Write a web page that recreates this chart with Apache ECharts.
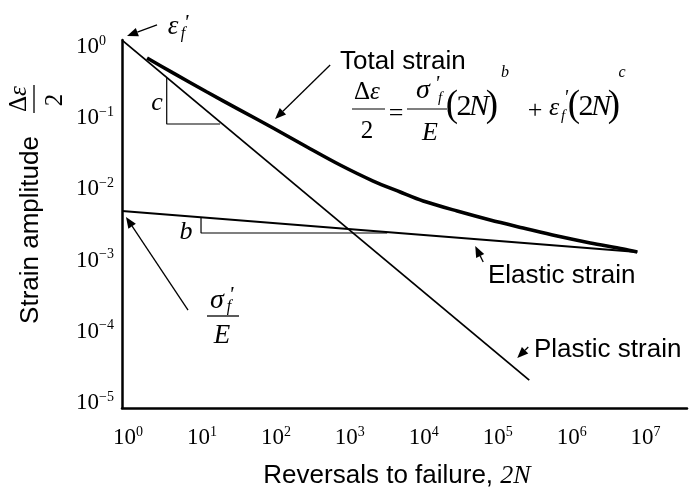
<!DOCTYPE html>
<html><head><meta charset="utf-8">
<script src="https://cdn.jsdelivr.net/npm/echarts@6/dist/echarts.min.js"></script>
<style>html,body{margin:0;padding:0;background:#fff}#c{width:690px;height:490px}</style>
</head><body><div id="c"></div>
<script>
// ---- data ----
const xTickExponents = [0, 1, 2, 3, 4, 5, 6, 7];
const yTickExponents = [0, -1, -2, -3, -4, -5];
const plasticLine = [[0.83, 1.25], [2.67e5, 2.1e-5]];
const elasticLine = [[0.83, 4.97e-3], [7.73e6, 1.32e-3]];
const totalCurve = [
  [1.81, 0.700], [4.06, 0.432], [11.7, 0.233], [32.8, 0.130], [91.6, 0.0728],
  [264, 0.0394], [740, 0.0220], [2070, 0.0131], [4800, 0.00919], [9820, 0.00687],
  [28300, 0.00497], [79200, 0.00372], [2.21e5, 0.00287], [6.38e5, 0.00221],
  [1.79e6, 0.00177], [5.0e6, 0.00146], [7.73e6, 0.00132]
];
const slopeC = [[3.34, 0.366], [3.34, 0.0828], [17.6, 0.0828]];
const slopeB = [[9.72, 0.00396], [9.72, 0.00244], [3200, 0.00244]];
// annotation arrows (tail -> tip), in data coordinates
const arrowNotes = [
  { from: [2.47, 2.04], to: [0.97, 1.43] },
  { from: [542, 0.558], to: [97.5, 0.0973] },
  { from: [6.49, 2.02e-4], to: [0.94, 4.09e-3] },
  { from: [63700, 9.55e-4], to: [49700, 1.60e-3] },
  { from: [2.59e5, 6.11e-5], to: [1.84e5, 4.28e-5] }
];

const SANS = 'Liberation Sans', SERIF = 'Liberation Serif';
const chart = echarts.init(document.getElementById('c'));

function powLabel(v, list) {
  const l = Math.log10(v), e = Math.round(l);
  if (Math.abs(l - e) > 1e-6 || list.indexOf(e) < 0) return '';
  return '{b|10}{s|' + (e < 0 ? '\u2212' + (-e) : e) + '}';
}
const labelRich = {
  b: { fontFamily: SERIF, fontSize: 23, lineHeight: 26, color: '#000' },
  s: { fontFamily: SERIF, fontSize: 14, lineHeight: 14, verticalAlign: 'top', color: '#000' }
};
const thin = { color: '#000', width: 1.8 };

const option = {
  backgroundColor: '#fff',
  animation: false,
  grid: { left: 122, right: 3, top: 40, bottom: 82, containLabel: false, outerBoundsMode: 'none' },
  xAxis: {
    type: 'log', logBase: 10, min: Math.pow(10, -0.081), max: Math.pow(10, 7.56),
    axisLine: { show: true, lineStyle: { color: '#000', width: 2.5 } },
    axisTick: { show: false }, splitLine: { show: false },
    axisLabel: { margin: 17, formatter: v => powLabel(v, xTickExponents), rich: labelRich }
  },
  yAxis: {
    type: 'log', logBase: 10, min: Math.pow(10, -5.07), max: Math.pow(10, 0.098),
    axisLine: { show: true, lineStyle: { color: '#000', width: 2.5 } },
    axisTick: { show: false }, splitLine: { show: false },
    axisLabel: { margin: 46, align: 'left', formatter: v => powLabel(v, yTickExponents), rich: labelRich }
  },
  series: [
    { name: 'Plastic strain', type: 'line', data: plasticLine, symbol: 'none', lineStyle: thin },
    { name: 'Elastic strain', type: 'line', data: elasticLine, symbol: 'none', lineStyle: thin },
    { name: 'Total strain', type: 'line', data: totalCurve, symbol: 'none', smooth: 0.3,
      lineStyle: { color: '#000', width: 3.6 } },
    { name: 'c', type: 'line', data: slopeC, symbol: 'none', lineStyle: { color: '#000', width: 1.2 } },
    { name: 'b', type: 'line', data: slopeB, symbol: 'none', lineStyle: { color: '#000', width: 1.2 } }
  ]
};
chart.setOption(option);

function tx(x, y, text, size, o) {
  o = o || {};
  return {
    type: 'text', x: x, y: y, rotation: o.rot || 0, z: 10,
    style: {
      text: text, fill: '#000', fontSize: size,
      fontFamily: o.sans ? SANS : SERIF, fontStyle: o.it ? 'italic' : 'normal',
      align: o.align || 'center', verticalAlign: 'middle', rich: o.rich
    }
  };
}
function ln(x1, y1, x2, y2, w) {
  return { type: 'line', z: 10, shape: { x1: x1, y1: y1, x2: x2, y2: y2 }, style: { stroke: '#000', lineWidth: w || 1.3 } };
}
const dEps = (size) => ({
  a: { fontFamily: SERIF, fontSize: size, color: '#000' },
  b: { fontFamily: SERIF, fontSize: size, fontStyle: 'italic', color: '#000' }
});
const R = Math.PI / 2;
const PR = "'";
const els = [
  tx(340, 62, 'Total strain', 26, { sans: true, align: 'left' }),
  tx(488, 276, 'Elastic strain', 26, { sans: true, align: 'left' }),
  tx(534, 350, 'Plastic strain', 26, { sans: true, align: 'left' }),
  tx(397, 476, '{a|Reversals to failure, }{b|2N}', 26, { sans: true, rich: {
    a: { fontFamily: SANS, fontSize: 26, color: '#000' },
    b: { fontFamily: SERIF, fontSize: 26, fontStyle: 'italic', color: '#000' } } }),
  tx(31, 230, 'Strain amplitude', 26, { sans: true, rot: R }),
  tx(19, 99, '{a|\u0394}{b|\u03b5}', 25, { rot: R, rich: dEps(25) }),
  ln(34, 85, 34, 113, 1.3),
  tx(55, 100, '2', 25, { rot: R }),
  // slope letters
  tx(157, 103, 'c', 26, { it: true }),
  tx(186, 232, 'b', 26, { it: true }),
  // epsilon'_f at top
  tx(173, 27, '\u03b5', 27, { it: true }),
  tx(186, 23, PR, 22, { it: true }),
  tx(183, 34, 'f', 16, { it: true }),
  // sigma'_f / E
  tx(217, 301, '\u03c3', 28, { it: true }),
  tx(231, 295, PR, 22, { it: true }),
  tx(229, 307, 'f', 16, { it: true }),
  ln(207, 316, 239, 316, 1.3),
  tx(222, 336, 'E', 27, { it: true }),
  // formula
  tx(367, 92, '{a|\u0394}{b|\u03b5}', 25, { rich: dEps(25) }),
  ln(352, 109, 385, 109, 1.2),
  tx(367, 131, '2', 25),
  tx(396, 114, '=', 26),
  tx(423, 91, '\u03c3', 28, { it: true }),
  tx(437, 84, PR, 21, { it: true }),
  tx(440, 98, 'f', 15, { it: true }),
  ln(407, 109, 447, 109, 1.2),
  tx(430, 133, 'E', 26, { it: true }),
  tx(452, 106, '(', 37),
  tx(464, 107, '2', 30),
  tx(479, 107, 'N', 30, { it: true }),
  tx(492, 106, ')', 37),
  tx(505, 73, 'b', 16, { it: true }),
  tx(535, 111, '+', 26),
  tx(554, 108, '\u03b5', 26, { it: true }),
  tx(566, 99, PR, 20, { it: true }),
  tx(563, 116, 'f', 15, { it: true }),
  tx(574, 106, '(', 37),
  tx(586, 107, '2', 30),
  tx(601, 107, 'N', 30, { it: true }),
  tx(614, 106, ')', 37),
  tx(622, 73, 'c', 16, { it: true })
];
arrowNotes.forEach(a => {
  const p0 = chart.convertToPixel({ gridIndex: 0 }, a.from);
  const p1 = chart.convertToPixel({ gridIndex: 0 }, a.to);
  const dx = p1[0] - p0[0], dy = p1[1] - p0[1], L = Math.sqrt(dx * dx + dy * dy);
  const ux = dx / L, uy = dy / L, hl = 11, hw = 4.5;
  const bx = p1[0] - ux * hl, by = p1[1] - uy * hl;
  if (L > hl) els.push(ln(p0[0], p0[1], bx, by, 1.3));
  els.push({ type: 'polygon', z: 10, shape: { points: [[p1[0], p1[1]], [bx - uy * hw, by + ux * hw], [bx + uy * hw, by - ux * hw]] },
    style: { fill: '#000' } });
});
chart.setOption({ graphic: els });
</script></body></html>
